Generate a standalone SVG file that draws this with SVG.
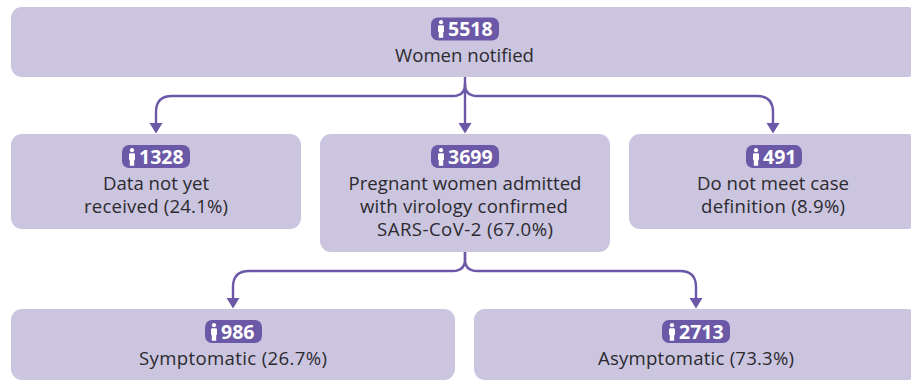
<svg xmlns="http://www.w3.org/2000/svg" width="911" height="380" viewBox="0 0 911 380">
<defs>
<symbol id="person" viewBox="0 0 10 18" overflow="visible">
<circle cx="5" cy="2.200" r="2.100" fill="#fff"/>
<path d="M3.200 5.200H6.800Q8 5.200 8 6.600V11.400L7.200 12.200V17.800H2.800V12.200L2 11.400V6.600Q2 5.200 3.200 5.200Z" fill="#fff"/>
</symbol>
<marker id="arrow" markerUnits="userSpaceOnUse" markerWidth="11" markerHeight="14" refX="0" refY="6.500" orient="auto">
<path d="M0 0L10.500 6.500L0 13Z" fill="#6b58a6"/>
</marker>
</defs>
<style>
.box{fill:#cbc5e0}
.badge{fill:#6b58a6}
.num{font:700 19.500px "Open Sans","Noto Sans",sans-serif;fill:#fff;text-anchor:start}
.lab{font:18.600px "Open Sans","Noto Sans",sans-serif;fill:#2b2a2e;text-anchor:middle}
.line{fill:none;stroke:#6b58a6;stroke-width:2.400}
</style>
<rect width="911" height="380" fill="#fff"/>
<g id="connectors">
<path class="line" d="M465 77V123" marker-end="url(#arrow)"/>
<path class="line" d="M465 84Q465 96 453 96H172Q156 96 156 112V123" marker-end="url(#arrow)"/>
<path class="line" d="M465 84Q465 96 477 96H757Q773 96 773 112V123" marker-end="url(#arrow)"/>
<path class="line" d="M465 252V259Q465 271 453 271H249Q233 271 233 287V298" marker-end="url(#arrow)"/>
<path class="line" d="M465 252V259Q465 271 477 271H680Q696 271 696 287V298" marker-end="url(#arrow)"/>
</g>
<g id="n-notified">
<rect class="box" x="11" y="7" width="908" height="70" rx="11"/>
<rect class="badge" x="431" y="17.500" width="68" height="23" rx="7"/>
<use href="#person" x="436" y="20" width="10" height="18"/>
<text class="num" x="448" y="36">5518</text>
<text class="lab" x="464.500" y="62">Women notified</text>
</g>
<g id="n-data">
<rect class="box" x="11" y="134" width="290" height="95" rx="11"/>
<rect class="badge" x="122" y="145" width="68" height="23" rx="7"/>
<use href="#person" x="127" y="148" width="10" height="18"/>
<text class="num" x="139" y="164">1328</text>
<text class="lab" x="156" y="190">Data not yet</text>
<text class="lab" x="156" y="213" textLength="144">received (24.1%)</text>
</g>
<g id="n-pregnant">
<rect class="box" x="320" y="134" width="290" height="118" rx="11"/>
<rect class="badge" x="431" y="145" width="68" height="23" rx="7"/>
<use href="#person" x="436" y="148" width="10" height="18"/>
<text class="num" x="448" y="164">3699</text>
<text class="lab" x="465" y="190" textLength="233">Pregnant women admitted</text>
<text class="lab" x="464" y="213" textLength="208">with virology confirmed</text>
<text class="lab" x="465" y="236" textLength="176">SARS-CoV-2 (67.0%)</text>
</g>
<g id="n-nomeet">
<rect class="box" x="629" y="134" width="290" height="95" rx="11"/>
<rect class="badge" x="746" y="145" width="56" height="23" rx="7"/>
<use href="#person" x="751" y="148" width="10" height="18"/>
<text class="num" x="763" y="164">491</text>
<text class="lab" x="773" y="190" textLength="152">Do not meet case</text>
<text class="lab" x="773" y="213" textLength="144">definition (8.9%)</text>
</g>
<g id="n-symptomatic">
<rect class="box" x="11" y="309" width="444" height="71" rx="11"/>
<rect class="badge" x="205" y="320" width="57" height="23" rx="7"/>
<use href="#person" x="209" y="323" width="10" height="18"/>
<text class="num" x="221" y="339">986</text>
<text class="lab" x="233" y="365" textLength="188">Symptomatic (26.7%)</text>
</g>
<g id="n-asymptomatic">
<rect class="box" x="474" y="309" width="445" height="71" rx="11"/>
<rect class="badge" x="662" y="320" width="68" height="23" rx="7"/>
<use href="#person" x="667" y="323" width="10" height="18"/>
<text class="num" x="679" y="339">2713</text>
<text class="lab" x="696" y="365" textLength="196">Asymptomatic (73.3%)</text>
</g>
</svg>
